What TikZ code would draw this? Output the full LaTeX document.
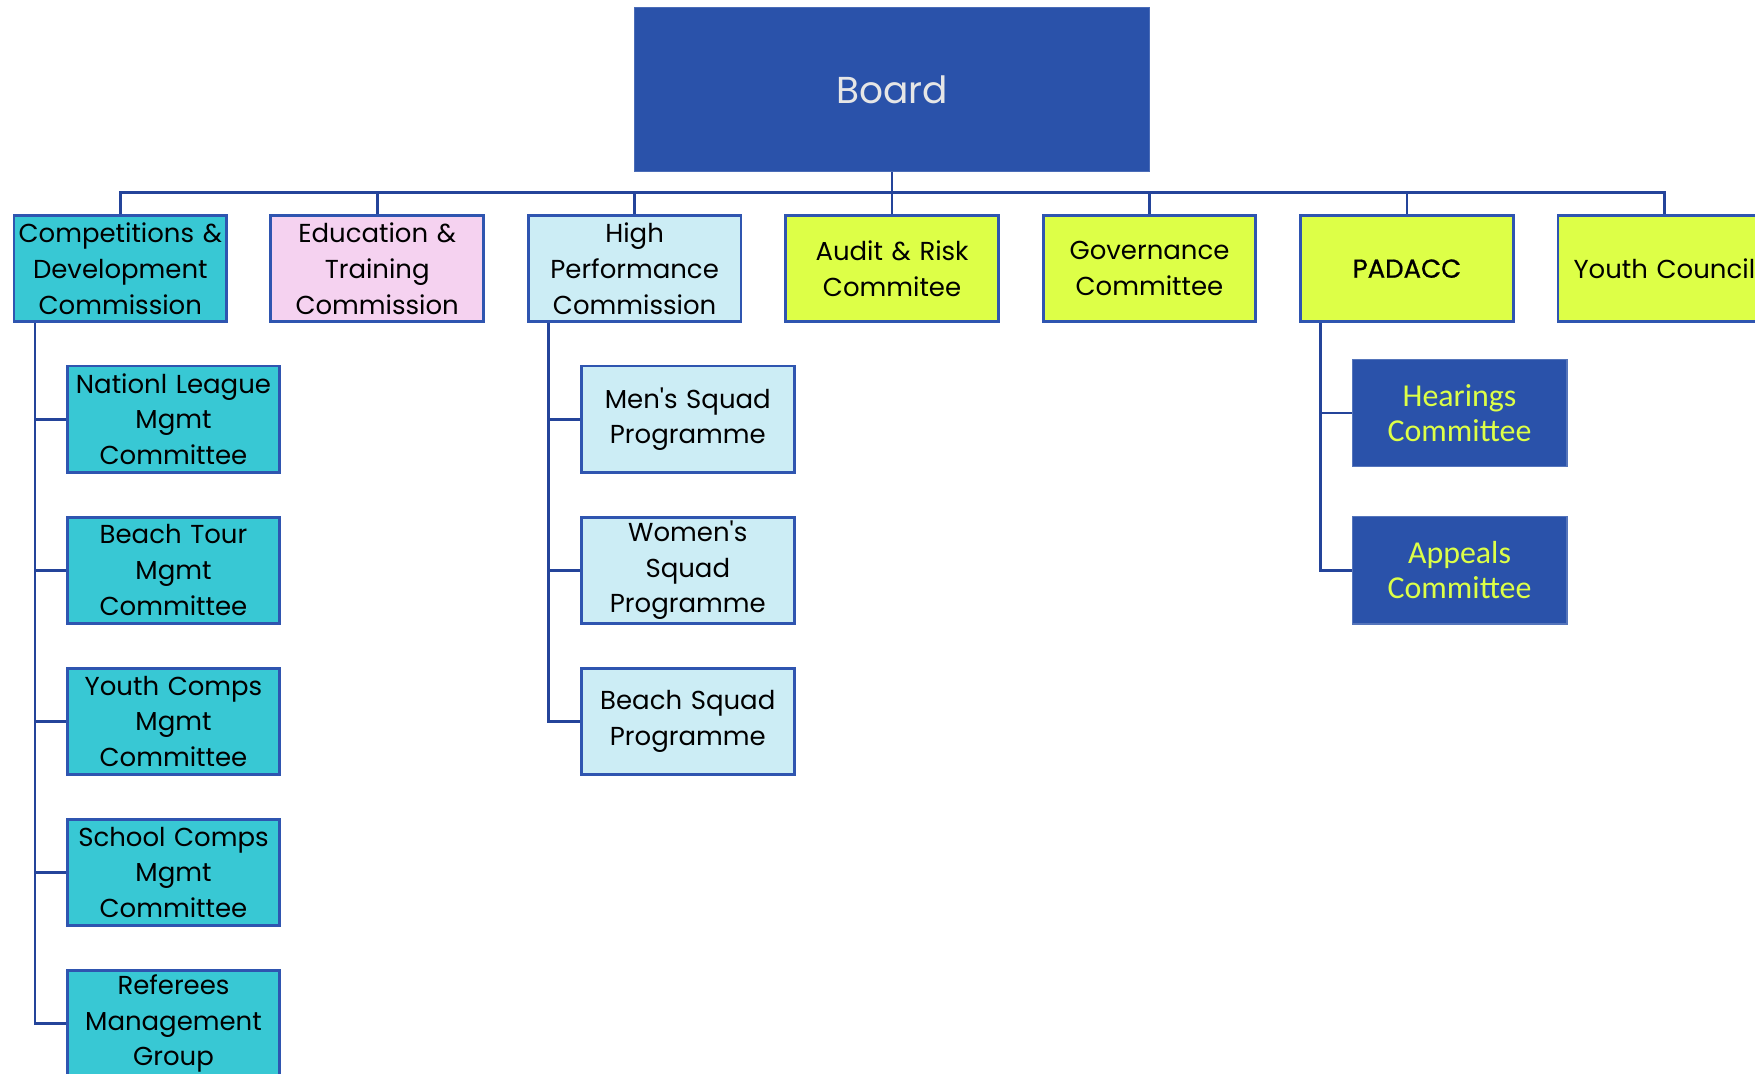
\documentclass[tikz,border=0pt]{standalone}
\usepackage{fontspec}
\setmainfont{Poppins}
\newfontfamily\popq{Poppins}[Ligatures=ResetAll]
\newfontfamily\carl{Carlito}
\definecolor{boardblue}{HTML}{2A52AA}
\definecolor{bordercol}{HTML}{2F55B0}
\definecolor{linecol}{HTML}{24449A}
\definecolor{tealc}{HTML}{38C8D4}
\definecolor{pinkc}{HTML}{F5D2F0}
\definecolor{lightb}{HTML}{CCEDF5}
\definecolor{limec}{HTML}{DDFF47}
\definecolor{boardtext}{HTML}{E6E6E6}
\newcommand{\apos}{{\popq '}}
\tikzset{
  box/.style={draw=bordercol, line width=2.5pt, minimum width=190pt, minimum height=95pt,
    inner sep=0pt, align=center, text width=188pt, font=\fontsize{23.2}{32}\selectfont},
  darkbox/.style={fill=boardblue, draw=boardblue!80!white, line width=1pt, minimum width=192pt, minimum height=96pt,
    inner sep=0pt, align=center, text width=188pt, text=limec, font=\carl\fontsize{28.5}{31}\selectfont},
  conn/.style={draw=linecol, line width=2.5pt}
}
\begin{document}
\begin{tikzpicture}[x=1pt, y=-1pt]
\useasboundingbox (0,0) rectangle (1568,959);
\clip (0,0) rectangle (1568,959);
\fill[white] (0,0) rectangle (1568,959);
% Board
\node[fill=boardblue, draw=boardblue!85!white, line width=1pt, minimum width=460pt, minimum height=146pt, inner sep=0pt,
  text=boardtext, font=\fontsize{33.5}{40}\selectfont] (board) at (797,80) {Board};
% level 1
\node[box, fill=tealc] (cdc) at (107.5,240) {Competitions \&\\Development\\Commission};
\node[box, fill=pinkc] (etc) at (337,240) {Education \&\\Training\\Commission};
\node[box, fill=lightb] (hpc) at (567,240) {High\\Performance\\Commission};
\node[box, fill=limec] (arc) at (797,240) {Audit \& Risk\\Commitee};
\node[box, fill=limec] (gov) at (1027,240) {Governance\\Committee};
\node[box, fill=limec] (pad) at (1257,240) {\addfontfeature{FakeBold=0.7}PADACC};
\node[box, fill=limec] (yc) at (1487,240) {Youth Council};
% CDC children
\node[box, fill=tealc] (nlm) at (155,374.5) {Nationl League\\Mgmt\\Committee};
\node[box, fill=tealc] (btm) at (155,509.5) {Beach Tour\\Mgmt\\Committee};
\node[box, fill=tealc] (ycm) at (155,644.5) {Youth Comps\\Mgmt\\Committee};
\node[box, fill=tealc] (scm) at (155,779.5) {School Comps\\Mgmt\\Committee};
\node[box, fill=tealc] (rmg) at (155,914.5) {Referees\\Management\\Group};
% HPC children
\node[box, fill=lightb] (msp) at (614.5,374.5) {Men\apos s Squad\\Programme};
\node[box, fill=lightb] (wsp) at (614.5,509.5) {Women\apos s\\Squad\\Programme};
\node[box, fill=lightb] (bsp) at (614.5,644.5) {Beach Squad\\Programme};
% PADACC children
\node[darkbox] (hc) at (1304,369) {Hearings\\Committee};
\node[darkbox] (ac) at (1304,509.5) {Appeals\\Committee};
% connectors
\coordinate (bus) at (797,172);
\draw[conn] (board.south) -- (bus);
\foreach \n in {cdc,etc,hpc,arc,gov,pad,yc}{
  \draw[conn] (bus) -| (\n.north);
}
\foreach \n in {nlm,btm,ycm,scm,rmg}{
  \draw[conn] ([xshift=20pt]cdc.south west) |- (\n.west);
}
\foreach \n in {msp,wsp,bsp}{
  \draw[conn] ([xshift=19pt]hpc.south west) |- (\n.west);
}
\foreach \n in {hc,ac}{
  \draw[conn] ([xshift=19pt]pad.south west) |- (\n.west);
}
\end{tikzpicture}
\end{document}
